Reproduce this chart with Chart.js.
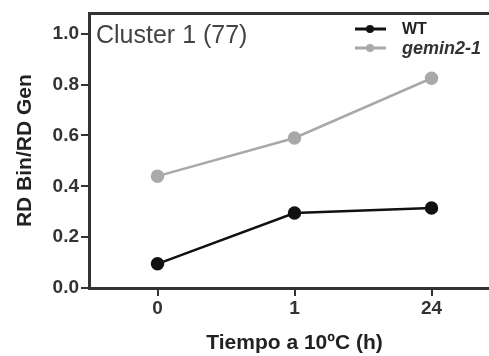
<!DOCTYPE html>
<html>
<head>
<meta charset="utf-8">
<script src="https://cdn.jsdelivr.net/npm/chart.js@4"></script>
<style>
  html, body { margin: 0; padding: 0; background: #fff; overflow: hidden; }
  #wrap { width: 510px; height: 356px; }
</style>
</head>
<body>
<div id="wrap"><canvas id="chart" width="510" height="356"></canvas></div>
<script>
  // data
  const timeLabels = ['0', '1', '24'];
  const wtValues = [0.095, 0.295, 0.315];
  const geminValues = [0.44, 0.59, 0.825];
  const yTicks = [0, 0.2, 0.4, 0.6, 0.8, 1.0];
  const seriesNames = ['WT', 'gemin2-1'];

  const axisColor = '#333';
  const font = 'Liberation Sans, Arial, sans-serif';

  // box round the plot + panel title + legend with line/dot markers
  const framePlugin = {
    id: 'frame',
    afterDraw(chart) {
      const { ctx, chartArea: a } = chart;
      ctx.save();
      ctx.strokeStyle = axisColor;
      ctx.lineWidth = 3;
      ctx.beginPath();
      ctx.moveTo(a.left, a.top);
      ctx.lineTo(a.right, a.top);
      ctx.lineTo(a.right, a.bottom);
      ctx.stroke();

      ctx.fillStyle = '#444';
      ctx.font = '25px ' + font;
      ctx.textBaseline = 'middle';
      ctx.fillText('Cluster 1 (77)', a.left + 7, 36);

      chart.data.datasets.forEach((ds, i) => {
        const y = 29 + i * 19;
        ctx.strokeStyle = ds.borderColor;
        ctx.fillStyle = ds.borderColor;
        ctx.lineWidth = 3;
        ctx.beginPath();
        ctx.moveTo(355, y);
        ctx.lineTo(386, y);
        ctx.stroke();
        ctx.beginPath();
        ctx.arc(370, y, 4, 0, Math.PI * 2);
        ctx.fill();
        ctx.fillStyle = i === 0 ? '#222' : '#333';
        ctx.font = (i === 0 ? 'bold 16px ' : 'italic bold 18px ') + font;
        ctx.fillText(ds.label, 402, y + 1);
      });
      ctx.restore();
    }
  };

  new Chart(document.getElementById('chart'), {
    type: 'line',
    data: {
      labels: timeLabels,
      datasets: [{
        label: seriesNames[0],
        data: wtValues,
        borderColor: '#111',
        backgroundColor: '#111',
        borderWidth: 2.5,
        pointRadius: 5.5,
        pointHoverRadius: 5.5,
        tension: 0
      }, {
        label: seriesNames[1],
        data: geminValues,
        borderColor: '#a9a9a9',
        backgroundColor: '#a9a9a9',
        borderWidth: 2.5,
        pointRadius: 5.5,
        pointHoverRadius: 5.5,
        tension: 0
      }]
    },
    options: {
      responsive: false,
      animation: false,
      layout: { padding: { top: 12, right: 10, left: 9, bottom: 0 } },
      plugins: {
        legend: { display: false },
        tooltip: { enabled: false }
      },
      scales: {
        x: {
          type: 'category',
          offset: true,
          grid: { display: true, drawOnChartArea: false, drawTicks: true, tickLength: 8, offset: false, color: axisColor, lineWidth: 2 },
          border: { display: true, color: axisColor, width: 3 },
          ticks: { color: '#333', font: { family: font, size: 19, weight: 'bold' }, padding: 1 },
          title: { display: true, text: 'Tiempo a 10ºC (h)', color: '#222', font: { family: font, size: 21, weight: 'bold' }, padding: { top: 4, bottom: 0 } },
          afterFit(scale) { scale.height = 68; }
        },
        y: {
          min: 0,
          max: 1.08,
          afterBuildTicks(scale) { scale.ticks = yTicks.map(v => ({ value: v })); },
          grid: { display: true, drawOnChartArea: false, drawTicks: true, tickLength: 8, color: axisColor, lineWidth: 2 },
          border: { display: true, color: axisColor, width: 3 },
          ticks: { color: '#333', font: { family: font, size: 19, weight: 'bold' }, padding: 2, callback: v => v.toFixed(1) },
          title: { display: true, text: 'RD Bin/RD Gen', color: '#222', font: { family: font, size: 21, weight: 'bold' }, padding: { bottom: 4 } },
          afterFit(scale) { scale.width = 80; }
        }
      }
    },
    plugins: [framePlugin]
  });
</script>
</body>
</html>
